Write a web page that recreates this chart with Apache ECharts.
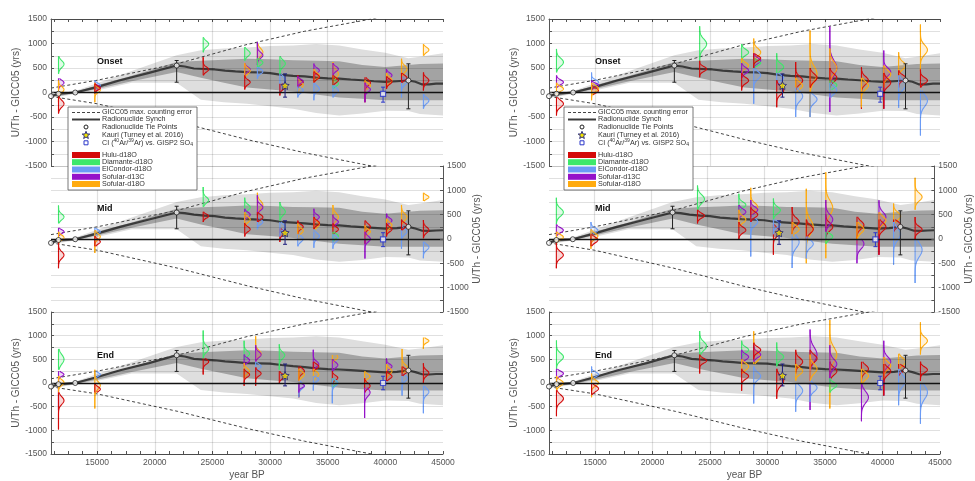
<!DOCTYPE html>
<html><head><meta charset="utf-8">
<script src="https://cdn.jsdelivr.net/npm/echarts@6/dist/echarts.min.js"></script>
<style>html,body{margin:0;padding:0;background:#fff}#c{width:975px;height:481px}</style>
</head><body><div id="c"></div>
<script>
// ---------------- DATA ----------------
const proxyNames = ['Hulu-d18O','Diamante-d18O','ElCondor-d18O','Sofular-d13C','Sofular-d18O'];
const proxyColors = ['#d40a0a','#3de86a','#6b9bf5','#9512c9','#ffab0f'];
const panelNames = ['Onset','Mid','End'];
const legendLabels = ['GICC05 max. counting error','Radionuclide Synch','Radionuclide Tie Points','Kauri (Turney et al. 2016)','CI ({sup|40}Ar/{sup|39}Ar) vs. GISP2 SO{sub|4}'];
const xLabelValues = [15000,20000,25000,30000,35000,40000,45000];
const xGridValues = [15000,20000,25000,30000,35000,40000];
const xMinorTicks = [11250,12500,13750,15000,16250,17500,18750,20000,21250,22500,23750,25000,26250,27500,28750,30000,31250,32500,33750,35000,36250,37500,38750,40000,41250,42500,43750,45000];

const bandYears = [11000,13100,15000,18000,21900,24000,26000,28000,30000,32000,34000,36000,38000,40000,42000,43000,45000];
const lightHi = [-40,30,190,440,760,860,900,920,950,960,990,960,880,810,700,730,800];
const lightLo = [-110,-30,40,200,200,-150,-200,-230,-280,-330,-420,-470,-430,-370,-380,-440,-470];
const darkHi  = [-55,15,150,340,620,650,670,690,680,660,650,640,560,520,560,580,590];
const darkLo  = [-95,-15,70,230,420,300,200,100,60,20,-40,-100,-130,-160,-160,-160,-160];

const synchYears = [11000,11650,13100,14800,17000,19500,21900,22600,23400,24300,25200,26100,27000,28000,29000,30000,31000,32000,33000,34000,35000,36000,37000,38000,39000,40000,41000,42000,42600,43200,43800,44400,45000];
const synchOnset = [-75,-25,0,100,250,400,550,530,490,480,470,445,430,415,410,395,360,340,330,305,290,285,265,250,230,215,230,245,220,165,165,180,180];
const synchMid   = [-80,-20,-5,100,250,400,545,530,500,480,470,440,425,410,400,385,350,335,320,300,285,280,260,245,230,215,225,250,215,170,165,175,180];
const synchEnd   = [-75,-25,0,110,270,420,585,560,510,495,480,455,440,420,415,410,380,355,335,310,295,285,270,255,240,225,235,265,230,185,180,190,190];

const mceYears = [11000,15000,22000,28000,33000,38800,45000];
const mceUpper = [90,250,590,980,1250,1500,1800];
const mceLower = [-80,-230,-600,-960,-1230,-1500,-1800];

const tieYears = [11000,11650,13100,21900,42000];
const tieOnset = [-75,-25,0,550,245];
const tieMid   = [-80,-20,-5,545,250];
const tieEnd   = [-75,-25,0,585,265];
const tieErrOnset = [[21900,210,653],[42000,-333,585]];
const tieErrMid   = [[21900,210,673],[42000,-326,578]];
const tieErrEnd   = [[21900,245,687],[42000,-320,585]];

// [year, value, low, high]
const kauriOnset = [31300,143,-95,380];
const kauriMid   = [31300,129,-109,374];
const kauriEnd   = [31300,156,-61,401];
const ciOnset = [39800,-27,-197,109];
const ciMid   = [39800,-7,-157,129];
const ciEnd   = [39800,0,-143,143];

// distributions: [year, proxy, mode, spread, top, bottom]
const distLeftOnset = [
 [11650,1,580,70,740,380],[11650,3,200,50,290,60],[11650,4,60,60,250,-200],[11650,0,-230,70,-40,-430],
 [14800,2,150,40,250,60],[14800,3,100,40,200,0],[14800,4,50,50,200,-200],[14800,0,90,40,180,-20],
 [24200,1,990,60,1130,820],[24200,0,470,50,720,350],
 [27800,1,800,60,930,650],[27800,3,470,50,600,350],[27800,4,440,60,600,300],[27800,0,210,50,350,60],
 [28900,4,820,80,1000,600],[28900,3,760,60,1030,560],[28900,1,610,50,700,500],[28900,2,430,50,520,280],
 [30850,1,590,70,740,380],[30850,2,250,80,380,0],[30850,0,110,50,180,-60],
 [32400,0,210,50,350,100],[32400,4,150,60,300,0],[32400,3,230,40,330,100],[32400,2,40,50,120,-100],
 [33800,3,450,50,590,300],[33800,4,340,60,480,200],[33800,0,320,50,430,200],[33800,2,75,60,200,-160],
 [35450,4,380,80,620,200],[35450,3,480,50,600,350],[35450,1,180,50,280,80],[35450,0,250,50,350,150],[35450,2,40,60,150,-100],
 [38230,0,200,60,310,-200],[38230,4,140,50,250,0],[38230,3,60,50,200,-200],
 [40100,3,350,50,480,250],[40100,4,250,60,400,100],[40100,0,220,50,330,70],
 [41400,4,480,70,690,300],[41400,2,210,60,330,-100],[41400,0,300,50,400,200],
 [43300,4,870,50,990,750],[43300,0,245,60,410,40],[43300,2,-165,60,-30,-330]
];
const distLeftMid = [
 [11650,1,455,60,690,320],[11650,3,150,40,230,60],[11650,4,30,50,150,-100],[11650,0,-330,70,-55,-600],
 [14800,2,150,40,230,60],[14800,4,50,60,180,-290],[14800,0,-55,50,60,-150],
 [24200,1,800,60,1070,660],[24200,0,470,40,560,350],
 [27800,1,650,60,850,500],[27800,3,500,50,620,380],[27800,4,400,60,550,250],[27800,0,200,50,330,50],
 [28900,4,700,80,950,500],[28900,3,650,60,900,480],[28900,2,350,50,450,200],[28900,0,450,50,550,350],
 [30850,1,560,70,760,380],[30850,0,130,50,220,-60],[30850,2,250,60,350,50],
 [32400,0,250,50,380,100],[32400,4,170,60,320,0],[32400,2,0,60,100,-150],
 [33800,3,450,50,620,300],[33800,4,300,60,450,150],[33800,0,330,50,450,200],[33800,2,60,60,200,-180],
 [35450,4,450,80,700,200],[35450,3,350,50,500,250],[35450,0,200,50,320,100],[35450,1,60,50,150,-50],[35450,2,0,60,100,-200],
 [38230,0,250,60,380,-100],[38230,4,150,50,280,0],[38230,3,0,60,150,-400],
 [40100,3,380,50,520,250],[40100,4,280,60,420,100],[40100,0,200,50,330,50],
 [41400,4,450,70,700,300],[41400,2,150,60,300,-200],[41400,0,280,50,400,180],
 [43300,4,860,40,950,780],[43300,0,185,60,390,15],[43300,2,-170,60,-55,-395]
];
const distLeftEnd = [
 [11650,1,500,100,720,280],[11650,3,180,40,250,-570],[11650,4,10,60,150,-200],[11650,0,-370,80,-200,-980],
 [14800,2,180,40,260,80],[14800,4,-50,80,280,-540],[14800,0,-130,50,0,-200],
 [24200,1,720,70,1110,520],[24200,0,450,50,520,180],
 [27750,1,620,60,890,500],[27750,3,480,50,600,350],[27750,4,250,60,420,100],[27750,0,177,50,300,-60],
 [28750,4,620,70,990,450],[28750,3,600,60,800,450],[28750,2,350,50,450,200],[28750,0,200,50,330,-60],
 [30800,1,585,70,820,280],[30800,0,140,50,250,0],
 [32500,0,250,60,350,-300],[32500,4,180,60,300,0],[32500,2,-60,60,50,-300],[32500,3,-60,40,0,-200],
 [33750,3,400,60,700,250],[33750,0,350,50,450,250],[33750,4,180,60,300,50],[33750,2,75,50,150,-160],
 [35400,4,550,60,590,400],[35400,3,380,60,500,250],[35400,0,110,50,250,0],[35400,1,6,50,100,-100],[35400,2,0,60,100,-430],
 [38200,4,140,50,250,0],[38200,0,-60,60,100,-200],[38200,3,-200,80,-100,-740],
 [40100,3,350,50,520,250],[40100,4,250,60,400,100],[40100,0,140,50,250,40],
 [41450,4,320,70,720,200],[41450,2,100,60,200,-265],[41450,0,250,50,350,150],
 [43300,4,890,40,960,720],[43300,0,210,60,415,6],[43300,2,-185,70,-60,-640]
];
const distRightOnset = [
 [11650,1,618,80,890,410],[11650,3,210,50,350,100],[11650,4,75,50,200,-50],[11650,0,-230,70,-95,-470],
 [14700,2,210,50,410,100],[14700,3,150,40,250,50],[14700,0,40,50,150,-50],[14700,4,80,60,200,-160],
 [24100,1,990,100,1350,650],[24100,0,480,50,650,310],
 [27750,1,820,60,990,520],[27750,4,550,60,700,400],[27750,3,450,60,600,300],[27750,0,245,60,400,40],
 [28800,4,820,80,1100,550],[28800,3,650,60,800,500],[28800,1,600,50,700,500],[28800,0,700,50,800,500],[28800,2,350,80,500,-230],
 [30800,1,520,70,800,400],[30800,2,300,60,400,150],[30800,0,40,80,250,-300],
 [32450,0,245,80,620,50],[32450,4,140,70,300,0],[32450,2,-75,100,100,-500],
 [33700,4,380,150,1265,-500],[33700,0,300,80,500,100],[33700,2,-140,80,0,-500],
 [35420,3,500,150,1346,-400],[35420,4,500,120,900,0],[35420,0,300,80,500,100],[35420,1,150,60,250,50],[35420,2,50,80,200,-100],
 [38170,0,245,80,516,-333],[38170,4,140,80,300,-300],
 [40110,3,420,80,857,-330],[40110,4,370,80,550,100],[40110,0,200,80,400,-330],
 [41400,4,550,80,820,300],[41400,0,300,60,450,100],[41400,2,150,100,350,-310],
 [43300,4,870,100,1390,450],[43300,0,245,60,470,100],[43300,2,-165,120,40,-880]
];
const distRightMid = [
 [11650,1,550,80,850,300],[11650,3,180,50,300,60],[11650,4,40,50,150,-100],[11650,0,-330,70,-55,-600],
 [14700,2,180,50,350,60],[14700,4,60,60,200,-200],[14700,0,-20,60,100,-150],
 [24100,1,820,90,1100,600],[24100,0,480,50,600,320],
 [27750,1,700,60,932,500],[27750,3,557,60,700,400],[27750,4,400,70,600,250],[27750,0,184,60,350,0],
 [28800,4,659,80,1054,450],[28800,3,600,60,800,450],[28800,2,353,80,500,-360],[28800,0,500,60,650,350],
 [30800,1,592,70,830,400],[30800,0,143,80,300,-326],[30800,2,300,60,400,100],
 [32450,0,353,80,659,100],[32450,4,200,70,350,50],[32450,2,-61,120,100,-598],
 [33700,4,250,150,1034,-496],[33700,0,200,80,400,0],[33700,2,-100,80,50,-400],
 [35420,4,640,150,1373,-394],[35420,0,250,80,500,50],[35420,3,400,100,800,0],[35420,1,50,60,150,-100],
 [38170,0,286,80,455,0],[38170,4,200,80,350,-100],[38170,3,-100,100,0,-496],
 [40110,3,450,100,796,-326],[40110,4,380,80,550,100],[40110,0,250,80,400,-326],
 [41400,4,470,80,728,300],[41400,0,300,60,400,150],[41400,2,100,120,350,-530],
 [43300,4,863,80,1258,600],[43300,0,197,60,450,0],[43300,2,-224,140,0,-904]
];
const distRightEnd = [
 [11650,1,550,80,900,300],[11650,3,200,50,300,50],[11650,4,0,60,150,-150],[11650,0,-330,80,-150,-700],
 [14700,2,180,50,350,60],[14700,4,0,60,200,-300],[14700,0,-120,60,0,-250],
 [24100,1,780,90,1100,500],[24100,0,470,50,600,200],
 [27750,1,700,60,891,500],[27750,3,551,60,700,400],[27750,4,347,70,500,200],[27750,0,143,60,300,-163],
 [28800,4,551,80,1095,400],[28800,3,600,60,800,450],[28800,0,700,60,850,500],[28800,2,143,80,350,-435],
 [30800,1,551,70,857,350],[30800,0,41,100,300,-333],
 [32450,0,449,80,700,200],[32450,4,250,70,400,50],[32450,2,-163,100,0,-605],
 [33700,3,600,150,1129,-571],[33700,0,517,80,700,300],[33700,4,300,100,600,0],[33700,2,-100,80,50,-400],
 [35420,4,600,150,1333,-537],[35420,0,250,80,450,50],[35420,3,400,100,800,0],[35420,1,-50,60,100,-200],
 [38170,0,300,80,449,0],[38170,4,150,80,300,-200],[38170,3,-300,120,0,-809],
 [40110,3,450,100,891,-265],[40110,4,367,80,550,100],[40110,0,250,80,400,-265],
 [41400,4,449,80,618,250],[41400,0,300,60,400,150],[41400,2,50,120,300,-469],
 [43300,4,891,80,1285,600],[43300,0,279,60,450,50],[43300,2,-197,140,0,-863]
];

// ---------------- CHART ----------------
const FONT = '"Liberation Sans", Arial, sans-serif';
const chart = echarts.init(document.getElementById('c'), null, {renderer:'canvas'});

const colLeft = [51, 549], colWidth = [392, 391];
const rowTop = [19, 166, 312], rowHeight = [147, 146, 147];
const synchRows = [synchOnset, synchMid, synchEnd];
const tieRows = [tieOnset, tieMid, tieEnd];
const tieErrRows = [tieErrOnset, tieErrMid, tieErrEnd];
const kauriRows = [kauriOnset, kauriMid, kauriEnd];
const ciRows = [ciOnset, ciMid, ciEnd];
const distPanels = [[distLeftOnset, distLeftMid, distLeftEnd],[distRightOnset, distRightMid, distRightEnd]];
const STAR = 'path://M0,-10 L2.9,-4 L9.5,-3.1 L4.8,1.5 L5.9,8.1 L0,5 L-5.9,8.1 L-4.8,1.5 L-9.5,-3.1 L-2.9,-4 Z';

const grids = [], xAxes = [], yAxes = [], series = [];

function bandRender(hi, lo, color){
  return function(params, api){
    const pts = [];
    for (let i=0;i<bandYears.length;i++) pts.push(api.coord([bandYears[i], hi[i]]));
    for (let i=bandYears.length-1;i>=0;i--) pts.push(api.coord([bandYears[i], lo[i]]));
    return {type:'polygon', shape:{points:pts}, style:{fill:color}};
  };
}
function distRender(amp){
  return function(params, api){
    const yr=api.value(0), p=api.value(1), m=api.value(2), s=api.value(3), top=api.value(4), bot=api.value(5);
    const x0 = api.coord([yr, 0])[0];
    const pts=[]; const N=48;
    for(let k=0;k<=N;k++){
      const v = top + (bot-top)*k/N;
      const w = amp*Math.exp(-0.5*Math.pow((v-m)/s,2));
      pts.push([x0+w, api.coord([yr, v])[1]]);
    }
    const yt = api.coord([yr,top])[1], yb = api.coord([yr,bot])[1];
    const col = proxyColors[p];
    return {type:'group', children:[
      {type:'polygon', shape:{points:pts.concat([[x0,yb],[x0,yt]])}, style:{fill:col, opacity:0.16}},
      {type:'polyline', shape:{points:pts}, style:{stroke:col, lineWidth:1.1, fill:null}},
      {type:'line', shape:{x1:x0,y1:yt,x2:x0,y2:yb}, style:{stroke:col, lineWidth:1.1}}
    ]};
  };
}
function errRender(color){
  return function(params, api){
    const yr=api.value(0), lo=api.value(1), hi=api.value(2);
    const a=api.coord([yr,lo]), b=api.coord([yr,hi]);
    const c=2;
    return {type:'group', children:[
      {type:'line', shape:{x1:a[0],y1:a[1],x2:b[0],y2:b[1]}, style:{stroke:color, lineWidth:1}},
      {type:'line', shape:{x1:a[0]-c,y1:a[1],x2:a[0]+c,y2:a[1]}, style:{stroke:color, lineWidth:1}},
      {type:'line', shape:{x1:b[0]-c,y1:b[1],x2:b[0]+c,y2:b[1]}, style:{stroke:color, lineWidth:1}}
    ]};
  };
}

for (let col=0; col<2; col++){
  for (let row=0; row<3; row++){
    const g = grids.length;
    grids.push({left:colLeft[col], top:rowTop[row], width:colWidth[col], height:rowHeight[row], containLabel:false});
    const isTop=row===0, isMid=row===1, isBot=row===2;
    xAxes.push({
      gridIndex:g, type:'value', min:11000, max:45000,
      position: isTop ? 'top' : 'bottom',
      show: !isMid,
      axisLine:{show:true, onZero:false, lineStyle:{color:'#555', width:1}},
      axisTick:{show:true, inside:true, length:3, customValues:xMinorTicks, lineStyle:{color:'#555'}},
      axisLabel:{show:isBot, customValues:xLabelValues, formatter:v=>String(v), color:'#555', fontSize:8.5, fontFamily:FONT, margin:4},
      splitLine:{show:false},
      name: isBot ? 'year BP' : '', nameLocation:'middle', nameGap:16,
      nameTextStyle:{color:'#555', fontSize:10, fontFamily:FONT}
    });
    yAxes.push({
      gridIndex:g, type:'value', min:-1500, max:1500, interval:250,
      position: isMid ? 'right' : 'left', z:5,
      axisLine:{show:true, onZero:false, lineStyle:{color:'#555', width:1}},
      axisTick:{show:true, inside:true, length:3, lineStyle:{color:'#555'}},
      axisLabel:{formatter:v=> (v%500===0 ? String(v) : ''), color:'#555', fontSize:8.5, fontFamily:FONT, margin:4},
      splitLine:{show:true, lineStyle:{color:'rgba(0,0,0,0.12)', width:1.2}},
      name:'U/Th - GICC05 (yrs)', nameLocation:'middle', nameGap:25, nameRotate:90,
      nameTextStyle:{color:'#555', fontSize:10, fontFamily:FONT}
    });
    const ax = {xAxisIndex:g, yAxisIndex:g};
    series.push(Object.assign({type:'line', data:[], silent:true, z:3,
      markLine:{silent:true, symbol:'none', label:{show:false}, z:3,
        lineStyle:{color:'rgba(0,0,0,0.12)', type:'solid', width:1.2},
        data: xGridValues.map(v=>({xAxis:v}))}}, ax));
    series.push(Object.assign({type:'custom', silent:true, z:1, data:[[11000,0]], renderItem:bandRender(lightHi, lightLo, '#dedede')}, ax));
    series.push(Object.assign({type:'custom', silent:true, z:1, data:[[11000,0]], renderItem:bandRender(darkHi, darkLo, '#a3a3a3')}, ax));
    series.push(Object.assign({type:'line', silent:true, z:2, symbol:'none', clip:true,
      data: mceYears.map((y,i)=>[y, mceUpper[i]]), lineStyle:{color:'#444', width:1, type:[3,2.5]}}, ax));
    series.push(Object.assign({type:'line', silent:true, z:2, symbol:'none', clip:true,
      data: mceYears.map((y,i)=>[y, mceLower[i]]), lineStyle:{color:'#444', width:1, type:[3,2.5]}}, ax));
    series.push(Object.assign({type:'line', silent:true, z:2, symbol:'none',
      data: synchYears.map((y,i)=>[y, synchRows[row][i]]), lineStyle:{color:'#3b3b3b', width:2.2},
      markLine:{silent:true, symbol:'none', label:{show:false}, lineStyle:{color:'#111', width:1.3, type:'solid'}, data:[{yAxis:0}]}}, ax));
    series.push(Object.assign({type:'custom', silent:true, z:4, data: distPanels[col][row], renderItem: distRender(col===0?5.5:7)}, ax));
    series.push(Object.assign({type:'custom', silent:true, z:6, data: tieErrRows[row], renderItem: errRender('#222')}, ax));
    series.push(Object.assign({type:'scatter', silent:true, z:7, clip:false, symbol:'circle', symbolSize:5,
      itemStyle:{color:'#fff', borderColor:'#222', borderWidth:1},
      data: tieYears.map((y,i)=>[y, tieRows[row][i]])}, ax));
    const k = kauriRows[row];
    series.push(Object.assign({type:'custom', silent:true, z:6, data:[[k[0],k[2],k[3]]], renderItem: errRender('#1c1c7c')}, ax));
    series.push(Object.assign({type:'scatter', silent:true, z:7, symbol:STAR, symbolSize:8,
      itemStyle:{color:'#f2e400', borderColor:'#1c1c7c', borderWidth:1}, data:[[k[0],k[1]]]}, ax));
    const c = ciRows[row];
    series.push(Object.assign({type:'custom', silent:true, z:6, data:[[c[0],c[2],c[3]]], renderItem: errRender('#2b37c9')}, ax));
    series.push(Object.assign({type:'scatter', silent:true, z:7, symbol:'rect', symbolSize:5,
      itemStyle:{color:'#fff', borderColor:'#2b37c9', borderWidth:1.2}, data:[[c[0],c[1]]]}, ax));
  }
}

const graphic = [];
const labelY = [62, 209, 356];
const labelX = [97, 595];
for (let col=0; col<2; col++){
  for (let row=0; row<3; row++){
    graphic.push({type:'text', z:20, x:labelX[col], y:labelY[row],
      style:{text:panelNames[row], font:'bold 9px '+FONT, fill:'#111', verticalAlign:'middle', textVerticalAlign:'middle'}});
  }
  const lx = col===0 ? 68 : 564, ly = 107;
  graphic.push({type:'rect', z:20, shape:{x:lx, y:ly, width:129, height:83}, style:{fill:'#fff', stroke:'#555', lineWidth:0.8}});
  const rowsY = [112.5,119.5,127,134.8,142.8,155,162.2,169.5,176.8,184];
  const tx = lx + 34;
  graphic.push({type:'line', z:21, shape:{x1:lx+4,y1:rowsY[0],x2:lx+32,y2:rowsY[0]}, style:{stroke:'#444', lineWidth:1, lineDash:[3,2]}});
  graphic.push({type:'line', z:21, shape:{x1:lx+4,y1:rowsY[1],x2:lx+32,y2:rowsY[1]}, style:{stroke:'#3b3b3b', lineWidth:2}});
  graphic.push({type:'circle', z:21, shape:{cx:lx+18, cy:rowsY[2], r:2}, style:{fill:'#fff', stroke:'#222', lineWidth:1}});
  const starPts=[]; for(let i=0;i<10;i++){const r=i%2?1.7:4; const a=-Math.PI/2+i*Math.PI/5; starPts.push([lx+18+r*Math.cos(a), rowsY[3]+0.5+r*Math.sin(a)]);}
  graphic.push({type:'polygon', z:21, shape:{points:starPts}, style:{fill:'#f2e400', stroke:'#1c1c7c', lineWidth:0.9}});
  graphic.push({type:'rect', z:21, shape:{x:lx+16, y:rowsY[4]-2, width:4, height:4}, style:{fill:'#fff', stroke:'#2b37c9', lineWidth:1}});
  for (let i=0;i<5;i++){
    graphic.push({type:'text', z:21, x:tx, y:rowsY[i],
      style:{text:legendLabels[i], font:'7.2px '+FONT, fontSize:7.2, fontFamily:FONT, fill:'#333', verticalAlign:'middle', textVerticalAlign:'middle',
        rich:{sup:{fontSize:5, fontFamily:FONT, fill:'#333', padding:[0,0,4,0]}, sub:{fontSize:5, fontFamily:FONT, fill:'#333', padding:[4,0,0,0]}}}});
  }
  for (let i=0;i<5;i++){
    graphic.push({type:'rect', z:21, shape:{x:lx+4, y:rowsY[5+i]-3, width:28, height:6}, style:{fill:proxyColors[i]}});
    graphic.push({type:'text', z:21, x:tx, y:rowsY[5+i],
      style:{text:proxyNames[i], font:'7.2px '+FONT, fill:'#333', verticalAlign:'middle', textVerticalAlign:'middle'}});
  }
}

chart.setOption({
  animation:false,
  backgroundColor:'#fff',
  grid:grids, xAxis:xAxes, yAxis:yAxes, series:series, graphic:graphic
});
</script>
</body></html>
